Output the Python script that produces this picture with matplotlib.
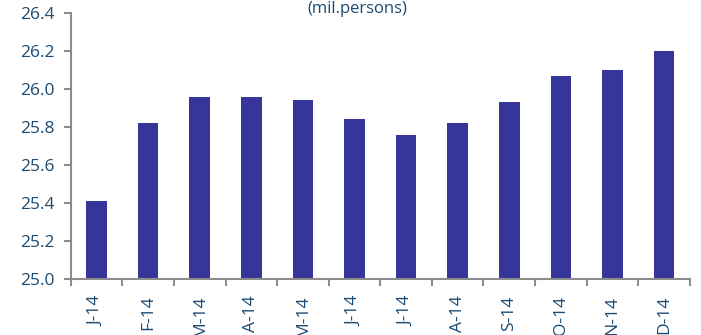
import numpy as np
import matplotlib.pyplot as plt

months = ["J-14", "F-14", "M-14", "A-14", "M-14", "J-14",
          "J-14", "A-14", "S-14", "O-14", "N-14", "D-14"]
employed = [25.41, 25.82, 25.96, 25.96, 25.94, 25.84,
            25.76, 25.82, 25.93, 26.07, 26.10, 26.20]

bar_color = "#35359a"
text_color = "#1b4a72"
axis_color = "#8c8c8c"

plt.rcParams["font.family"] = ["Open Sans", "DejaVu Sans"]

fig = plt.figure(figsize=(7.01, 3.35), dpi=100)
ax = fig.add_axes([0.101, 0.167, 0.883, 0.794])

x = np.arange(len(months))
ax.bar(x, employed, width=0.4, color=bar_color, bottom=0)

ax.set_ylim(25.0, 26.4)
ax.set_xlim(-0.5, len(months) - 0.5)
ax.set_yticks(np.arange(25.0, 26.41, 0.2))
ax.set_yticklabels([f"{v:.1f}" for v in np.arange(25.0, 26.41, 0.2)])

# labels at bar centres, tick marks between categories
ax.set_xticks(x)
ax.set_xticklabels(months, rotation=90)
ax.set_xticks(np.arange(-0.5, len(months), 1.0), minor=True)
ax.tick_params(axis="x", which="major", length=0, pad=12,
               labelsize=12.5, labelcolor=text_color)
ax.tick_params(axis="x", which="minor", length=5, width=1.5, color=axis_color)
ax.tick_params(axis="y", length=5, width=1.5, color=axis_color, pad=7,
               labelsize=12.5, labelcolor=text_color)

for side in ["top", "right"]:
    ax.spines[side].set_visible(False)
for side in ["left", "bottom"]:
    ax.spines[side].set_color(axis_color)
    ax.spines[side].set_linewidth(1.5)

fig.text(0.51, 0.996, "(mil.persons)", ha="center", va="top",
         fontsize=12, color=text_color)

fig.savefig("out.png", dpi=100)
